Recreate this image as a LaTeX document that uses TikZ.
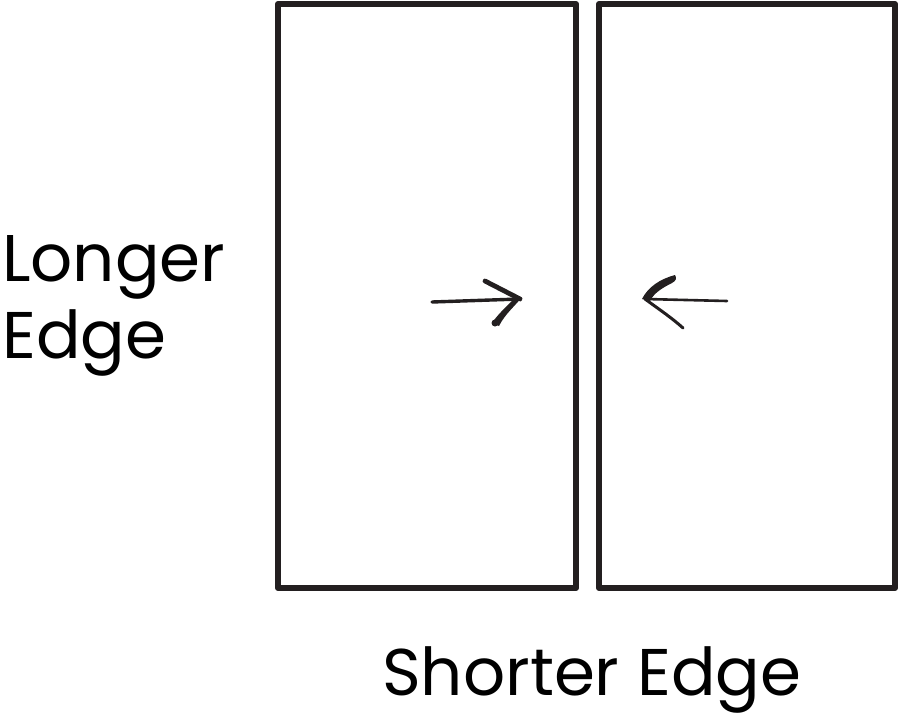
\documentclass[tikz,border=0pt]{standalone}
\usepackage{fontspec}
\setmainfont{Poppins}
\definecolor{ink}{HTML}{231F20}
\begin{document}
\begin{tikzpicture}[x=1pt,y=-1pt,
  panel/.style={draw=ink,line width=6pt,line join=round,inner sep=0pt,outer sep=0pt,minimum width=298pt,minimum height=584pt},
  shaft/.style={draw=ink,line width=3.4pt,line cap=round},
  barb/.style={draw=ink,line width=4.8pt,line cap=round},
  lbl/.style={text=black,font=\fontsize{66}{77}\selectfont,inner sep=0pt,align=left}]
\useasboundingbox (0,0) rectangle (901,715);
\node[panel,anchor=north west] (left) at (278,4) {};
\node[panel,anchor=north west,minimum width=296pt] (right) at (599,4) {};
% left arrow
\coordinate (la0) at (432,302);
\coordinate (lat) at (520,299);
\coordinate (lau) at (485,281);
\coordinate (lal) at (495,323);
\draw[shaft] (la0) -- (lat);
\draw[barb] (lau) -- (lat);
\fill[ink] (522,297) .. controls (515,306) and (505,314) .. (499,326)
  -- (492,323) .. controls (498,314) and (507,306) .. (516,297) -- cycle;
\fill[ink] (lal) circle (3.5pt);
% right arrow
\coordinate (ra0) at (727,301);
\coordinate (rat) at (645,299);
\coordinate (rau) at (673,278);
\coordinate (ral) at (683,328);
\draw[draw=ink,line width=2.6pt,line cap=round] (ra0) -- (rat);
\fill[ink] (642,299) .. controls (648,287) and (660,279) .. (675,275)
  .. controls (677,278) and (676,281) .. (672,283)
  .. controls (662,288) and (654,293) .. (650,301) -- cycle;
\draw[draw=ink,line width=3pt,line cap=round] (rat) .. controls (660,310) and (672,318) .. (ral);
% labels
\node[lbl,anchor=base west] (lname) at (2,358) {Longer\\Edge};
\node[lbl,anchor=base west] (sname) at (382,695) {Shorter Edge};
\end{tikzpicture}
\end{document}
